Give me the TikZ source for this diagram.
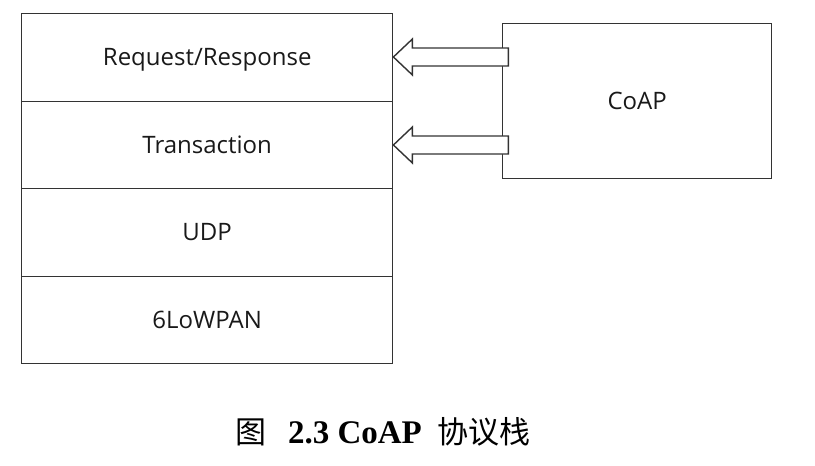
\documentclass[tikz,border=0pt]{standalone}
\usepackage{fontspec}
\setmainfont{Liberation Serif}
\newfontfamily\boxfont{Open Sans}
\newfontfamily\cjk{Noto Sans CJK SC}
\usetikzlibrary{calc}
\tikzset{
  boxtext/.style={font=\boxfont\fontsize{24}{28}\selectfont, text=black!90, text height=17pt, text depth=0pt},
  layer/.style={draw=black!80, line width=1.4pt, minimum width=371pt, minimum height=87.5pt, inner sep=0pt, anchor=north west, boxtext},
  coapbox/.style={draw=black!80, line width=1.4pt, minimum width=269pt, minimum height=155pt, inner sep=0pt, anchor=north west, boxtext},
  blockarrow/.style={draw=black!80, line width=1.4pt, fill=white, line join=miter}
}
\begin{document}
\begin{tikzpicture}[x=1pt, y=-1pt]
\useasboundingbox (0,0) rectangle (815,466);
\node[layer] (req) at (21,13) {Request/Response};
\node[layer] (tra) at (21,100.5) {Transaction};
\node[layer] (udp) at (21,188) {UDP};
\node[layer] (low) at (21,275.5) {6LoWPAN};
\node[coapbox] (coap) at (502,23) {CoAP};
\coordinate (t1) at (req.east |- 0,57);
\coordinate (t2) at (tra.east |- 0,145);
\foreach \t in {t1,t2}{
  \draw[blockarrow] (\t) -- ++(19,-18) -- ++(0,9) -- ++(96,0) -- ++(0,18) -- ++(-96,0) -- ++(0,9) -- cycle;
}
\node[font=\fontsize{33}{36}\selectfont, inner sep=0pt] (cap) at (383,432) {{\cjk\fontsize{31}{34}\selectfont 图}\hspace{22pt}\textbf{2.3 CoAP}\hspace{16pt}{\cjk\fontsize{31}{34}\selectfont 协议栈}};
\end{tikzpicture}
\end{document}
